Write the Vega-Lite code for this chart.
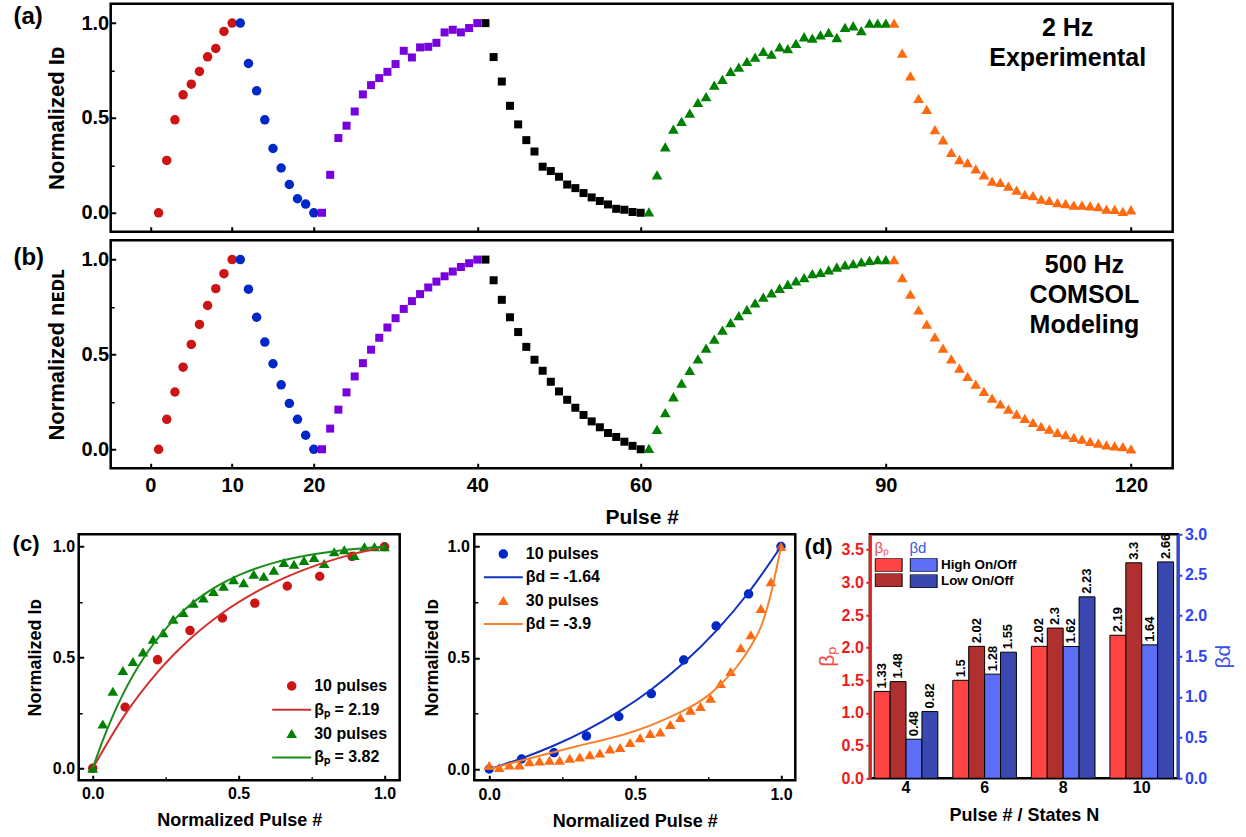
{
"$schema": "https://vega.github.io/schema/vega-lite/v6.json",
"padding": {"left": 10.7, "top": 1.75, "right": 0, "bottom": 0},
"background": "white",
"config": {
  "font": "Liberation Sans",
  "view": {"stroke": "black", "strokeWidth": 2.5},
  "axis": {"grid": false, "domain": false, "labelFontWeight": "bold", "titleFontWeight": "bold", "labelColor": "black", "titleColor": "black", "tickColor": "black", "labelFlush": false, "labelOverlap": false},
  "legend": {"labelFontWeight": "bold", "labelColor": "black"},
  "title": {"color": "black"}
},
"datasets": {
  "a": [
    {"n":1,"v":0,"s":"r"},{"n":2,"v":0.276,"s":"r"},{"n":3,"v":0.49,"s":"r"},{"n":4,"v":0.622,"s":"r"},{"n":5,"v":0.678,"s":"r"},{"n":6,"v":0.745,"s":"r"},{"n":7,"v":0.822,"s":"r"},{"n":8,"v":0.866,"s":"r"},{"n":9,"v":0.956,"s":"r"},{"n":10,"v":1.0,"s":"r"},
    {"n":11,"v":1.0,"s":"b"},{"n":12,"v":0.787,"s":"b"},{"n":13,"v":0.643,"s":"b"},{"n":14,"v":0.49,"s":"b"},{"n":15,"v":0.339,"s":"b"},{"n":16,"v":0.236,"s":"b"},{"n":17,"v":0.149,"s":"b"},{"n":18,"v":0.074,"s":"b"},{"n":19,"v":0.046,"s":"b"},{"n":20,"v":0.0,"s":"b"},
    {"n":21,"v":0,"s":"p"},{"n":22,"v":0.2,"s":"p"},{"n":23,"v":0.394,"s":"p"},{"n":24,"v":0.459,"s":"p"},{"n":25,"v":0.534,"s":"p"},{"n":26,"v":0.624,"s":"p"},{"n":27,"v":0.673,"s":"p"},{"n":28,"v":0.71,"s":"p"},{"n":29,"v":0.743,"s":"p"},{"n":30,"v":0.784,"s":"p"},{"n":31,"v":0.854,"s":"p"},{"n":32,"v":0.819,"s":"p"},{"n":33,"v":0.872,"s":"p"},{"n":34,"v":0.875,"s":"p"},{"n":35,"v":0.896,"s":"p"},{"n":36,"v":0.951,"s":"p"},{"n":37,"v":0.965,"s":"p"},{"n":38,"v":0.951,"s":"p"},{"n":39,"v":0.974,"s":"p"},{"n":40,"v":1.0,"s":"p"},
    {"n":41,"v":1.0,"s":"k"},{"n":42,"v":0.821,"s":"k"},{"n":43,"v":0.692,"s":"k"},{"n":44,"v":0.564,"s":"k"},{"n":45,"v":0.466,"s":"k"},{"n":46,"v":0.383,"s":"k"},{"n":47,"v":0.323,"s":"k"},{"n":48,"v":0.243,"s":"k"},{"n":49,"v":0.22,"s":"k"},{"n":50,"v":0.19,"s":"k"},{"n":51,"v":0.149,"s":"k"},{"n":52,"v":0.13,"s":"k"},{"n":53,"v":0.104,"s":"k"},{"n":54,"v":0.081,"s":"k"},{"n":55,"v":0.062,"s":"k"},{"n":56,"v":0.044,"s":"k"},{"n":57,"v":0.021,"s":"k"},{"n":58,"v":0.016,"s":"k"},{"n":59,"v":0.004,"s":"k"},{"n":60,"v":0.0,"s":"k"},
    {"n":61,"v":0.005,"s":"g"},{"n":62,"v":0.2,"s":"g"},{"n":63,"v":0.348,"s":"g"},{"n":64,"v":0.441,"s":"g"},{"n":65,"v":0.482,"s":"g"},{"n":66,"v":0.525,"s":"g"},{"n":67,"v":0.582,"s":"g"},{"n":68,"v":0.612,"s":"g"},{"n":69,"v":0.673,"s":"g"},{"n":70,"v":0.703,"s":"g"},{"n":71,"v":0.745,"s":"g"},{"n":72,"v":0.768,"s":"g"},{"n":73,"v":0.798,"s":"g"},{"n":74,"v":0.821,"s":"g"},{"n":75,"v":0.851,"s":"g"},{"n":76,"v":0.837,"s":"g"},{"n":77,"v":0.875,"s":"g"},{"n":78,"v":0.866,"s":"g"},{"n":79,"v":0.893,"s":"g"},{"n":80,"v":0.928,"s":"g"},{"n":81,"v":0.921,"s":"g"},{"n":82,"v":0.938,"s":"g"},{"n":83,"v":0.951,"s":"g"},{"n":84,"v":0.924,"s":"g"},{"n":85,"v":0.977,"s":"g"},{"n":86,"v":0.986,"s":"g"},{"n":87,"v":0.96,"s":"g"},{"n":88,"v":1.0,"s":"g"},{"n":89,"v":1.0,"s":"g"},{"n":90,"v":1.0,"s":"g"},
    {"n":91,"v":1.0,"s":"o"},{"n":92,"v":0.842,"s":"o"},{"n":93,"v":0.722,"s":"o"},{"n":94,"v":0.603,"s":"o"},{"n":95,"v":0.545,"s":"o"},{"n":96,"v":0.438,"s":"o"},{"n":97,"v":0.385,"s":"o"},{"n":98,"v":0.318,"s":"o"},{"n":99,"v":0.281,"s":"o"},{"n":100,"v":0.264,"s":"o"},{"n":101,"v":0.232,"s":"o"},{"n":102,"v":0.2,"s":"o"},{"n":103,"v":0.167,"s":"o"},{"n":104,"v":0.16,"s":"o"},{"n":105,"v":0.141,"s":"o"},{"n":106,"v":0.12,"s":"o"},{"n":107,"v":0.097,"s":"o"},{"n":108,"v":0.09,"s":"o"},{"n":109,"v":0.072,"s":"o"},{"n":110,"v":0.065,"s":"o"},{"n":111,"v":0.054,"s":"o"},{"n":112,"v":0.049,"s":"o"},{"n":113,"v":0.04,"s":"o"},{"n":114,"v":0.04,"s":"o"},{"n":115,"v":0.037,"s":"o"},{"n":116,"v":0.033,"s":"o"},{"n":117,"v":0.019,"s":"o"},{"n":118,"v":0.018,"s":"o"},{"n":119,"v":0.007,"s":"o"},{"n":120,"v":0.016,"s":"o"}
  ],
  "b": [
    {"n":1,"v":0,"s":"r"},{"n":2,"v":0.158,"s":"r"},{"n":3,"v":0.302,"s":"r"},{"n":4,"v":0.433,"s":"r"},{"n":5,"v":0.553,"s":"r"},{"n":6,"v":0.658,"s":"r"},{"n":7,"v":0.758,"s":"r"},{"n":8,"v":0.847,"s":"r"},{"n":9,"v":0.926,"s":"r"},{"n":10,"v":1.0,"s":"r"},
    {"n":11,"v":1.0,"s":"b"},{"n":12,"v":0.844,"s":"b"},{"n":13,"v":0.696,"s":"b"},{"n":14,"v":0.565,"s":"b"},{"n":15,"v":0.451,"s":"b"},{"n":16,"v":0.34,"s":"b"},{"n":17,"v":0.242,"s":"b"},{"n":18,"v":0.158,"s":"b"},{"n":19,"v":0.074,"s":"b"},{"n":20,"v":0,"s":"b"},
    {"n":21,"v":0,"s":"p"},{"n":22,"v":0.109,"s":"p"},{"n":23,"v":0.209,"s":"p"},{"n":24,"v":0.3,"s":"p"},{"n":25,"v":0.384,"s":"p"},{"n":26,"v":0.454,"s":"p"},{"n":27,"v":0.525,"s":"p"},{"n":28,"v":0.588,"s":"p"},{"n":29,"v":0.642,"s":"p"},{"n":30,"v":0.691,"s":"p"},{"n":31,"v":0.74,"s":"p"},{"n":32,"v":0.781,"s":"p"},{"n":33,"v":0.818,"s":"p"},{"n":34,"v":0.853,"s":"p"},{"n":35,"v":0.884,"s":"p"},{"n":36,"v":0.912,"s":"p"},{"n":37,"v":0.937,"s":"p"},{"n":38,"v":0.961,"s":"p"},{"n":39,"v":0.981,"s":"p"},{"n":40,"v":1.0,"s":"p"},
    {"n":41,"v":1.0,"s":"k"},{"n":42,"v":0.891,"s":"k"},{"n":43,"v":0.788,"s":"k"},{"n":44,"v":0.696,"s":"k"},{"n":45,"v":0.618,"s":"k"},{"n":46,"v":0.54,"s":"k"},{"n":47,"v":0.472,"s":"k"},{"n":48,"v":0.414,"s":"k"},{"n":49,"v":0.356,"s":"k"},{"n":50,"v":0.305,"s":"k"},{"n":51,"v":0.261,"s":"k"},{"n":52,"v":0.219,"s":"k"},{"n":53,"v":0.181,"s":"k"},{"n":54,"v":0.147,"s":"k"},{"n":55,"v":0.116,"s":"k"},{"n":56,"v":0.086,"s":"k"},{"n":57,"v":0.065,"s":"k"},{"n":58,"v":0.04,"s":"k"},{"n":59,"v":0.018,"s":"k"},{"n":60,"v":0,"s":"k"},
    {"n":61,"v":0.005,"s":"g"},{"n":62,"v":0.105,"s":"g"},{"n":63,"v":0.193,"s":"g"},{"n":64,"v":0.277,"s":"g"},{"n":65,"v":0.349,"s":"g"},{"n":66,"v":0.416,"s":"g"},{"n":67,"v":0.477,"s":"g"},{"n":68,"v":0.533,"s":"g"},{"n":69,"v":0.581,"s":"g"},{"n":70,"v":0.628,"s":"g"},{"n":71,"v":0.668,"s":"g"},{"n":72,"v":0.705,"s":"g"},{"n":73,"v":0.737,"s":"g"},{"n":74,"v":0.772,"s":"g"},{"n":75,"v":0.802,"s":"g"},{"n":76,"v":0.825,"s":"g"},{"n":77,"v":0.849,"s":"g"},{"n":78,"v":0.87,"s":"g"},{"n":79,"v":0.888,"s":"g"},{"n":80,"v":0.905,"s":"g"},{"n":81,"v":0.926,"s":"g"},{"n":82,"v":0.933,"s":"g"},{"n":83,"v":0.946,"s":"g"},{"n":84,"v":0.961,"s":"g"},{"n":85,"v":0.972,"s":"g"},{"n":86,"v":0.979,"s":"g"},{"n":87,"v":0.988,"s":"g"},{"n":88,"v":0.996,"s":"g"},{"n":89,"v":1.0,"s":"g"},{"n":90,"v":1.0,"s":"g"},
    {"n":91,"v":1.0,"s":"o"},{"n":92,"v":0.905,"s":"o"},{"n":93,"v":0.818,"s":"o"},{"n":94,"v":0.735,"s":"o"},{"n":95,"v":0.66,"s":"o"},{"n":96,"v":0.593,"s":"o"},{"n":97,"v":0.533,"s":"o"},{"n":98,"v":0.477,"s":"o"},{"n":99,"v":0.428,"s":"o"},{"n":100,"v":0.384,"s":"o"},{"n":101,"v":0.344,"s":"o"},{"n":102,"v":0.305,"s":"o"},{"n":103,"v":0.27,"s":"o"},{"n":104,"v":0.239,"s":"o"},{"n":105,"v":0.212,"s":"o"},{"n":106,"v":0.186,"s":"o"},{"n":107,"v":0.163,"s":"o"},{"n":108,"v":0.142,"s":"o"},{"n":109,"v":0.121,"s":"o"},{"n":110,"v":0.107,"s":"o"},{"n":111,"v":0.089,"s":"o"},{"n":112,"v":0.077,"s":"o"},{"n":113,"v":0.063,"s":"o"},{"n":114,"v":0.053,"s":"o"},{"n":115,"v":0.042,"s":"o"},{"n":116,"v":0.032,"s":"o"},{"n":117,"v":0.023,"s":"o"},{"n":118,"v":0.018,"s":"o"},{"n":119,"v":0.014,"s":"o"},{"n":120,"v":0.002,"s":"o"}
  ],
  "c1p": [
    {"x":0,"y":0,"s":"10 pulses"},{"x":0.1111,"y":0.276,"s":"10 pulses"},{"x":0.2222,"y":0.49,"s":"10 pulses"},{"x":0.3333,"y":0.622,"s":"10 pulses"},{"x":0.4444,"y":0.678,"s":"10 pulses"},{"x":0.5556,"y":0.745,"s":"10 pulses"},{"x":0.6667,"y":0.822,"s":"10 pulses"},{"x":0.7778,"y":0.866,"s":"10 pulses"},{"x":0.8889,"y":0.956,"s":"10 pulses"},{"x":1,"y":1,"s":"10 pulses"},
    {"x":0,"y":0,"s":"30 pulses"},{"x":0.0345,"y":0.2,"s":"30 pulses"},{"x":0.069,"y":0.348,"s":"30 pulses"},{"x":0.1034,"y":0.441,"s":"30 pulses"},{"x":0.1379,"y":0.482,"s":"30 pulses"},{"x":0.1724,"y":0.525,"s":"30 pulses"},{"x":0.2069,"y":0.582,"s":"30 pulses"},{"x":0.2414,"y":0.612,"s":"30 pulses"},{"x":0.2759,"y":0.673,"s":"30 pulses"},{"x":0.3103,"y":0.703,"s":"30 pulses"},{"x":0.3448,"y":0.745,"s":"30 pulses"},{"x":0.3793,"y":0.768,"s":"30 pulses"},{"x":0.4138,"y":0.798,"s":"30 pulses"},{"x":0.4483,"y":0.821,"s":"30 pulses"},{"x":0.4828,"y":0.851,"s":"30 pulses"},{"x":0.5172,"y":0.837,"s":"30 pulses"},{"x":0.5517,"y":0.875,"s":"30 pulses"},{"x":0.5862,"y":0.866,"s":"30 pulses"},{"x":0.6207,"y":0.893,"s":"30 pulses"},{"x":0.6552,"y":0.928,"s":"30 pulses"},{"x":0.6897,"y":0.921,"s":"30 pulses"},{"x":0.7241,"y":0.938,"s":"30 pulses"},{"x":0.7586,"y":0.951,"s":"30 pulses"},{"x":0.7931,"y":0.924,"s":"30 pulses"},{"x":0.8276,"y":0.977,"s":"30 pulses"},{"x":0.8621,"y":0.986,"s":"30 pulses"},{"x":0.8966,"y":0.96,"s":"30 pulses"},{"x":0.931,"y":1,"s":"30 pulses"},{"x":0.9655,"y":1,"s":"30 pulses"},{"x":1,"y":1,"s":"30 pulses"}
  ],
  "c1l": [
    {"x":0,"y":0,"s":"βₚ = 2.19"},{"x":0.1111,"y":0.2431,"s":"βₚ = 2.19"},{"x":0.2222,"y":0.4339,"s":"βₚ = 2.19"},{"x":0.3333,"y":0.5834,"s":"βₚ = 2.19"},{"x":0.4444,"y":0.7006,"s":"βₚ = 2.19"},{"x":0.5556,"y":0.7925,"s":"βₚ = 2.19"},{"x":0.6667,"y":0.8646,"s":"βₚ = 2.19"},{"x":0.7778,"y":0.921,"s":"βₚ = 2.19"},{"x":0.8889,"y":0.9653,"s":"βₚ = 2.19"},{"x":1,"y":1,"s":"βₚ = 2.19"},
    {"x":0,"y":0,"s":"βₚ = 3.82"},{"x":0.0345,"y":0.1262,"s":"βₚ = 3.82"},{"x":0.069,"y":0.2368,"s":"βₚ = 3.82"},{"x":0.1034,"y":0.3337,"s":"βₚ = 3.82"},{"x":0.1379,"y":0.4187,"s":"βₚ = 3.82"},{"x":0.1724,"y":0.4933,"s":"βₚ = 3.82"},{"x":0.2069,"y":0.5586,"s":"βₚ = 3.82"},{"x":0.2414,"y":0.6158,"s":"βₚ = 3.82"},{"x":0.2759,"y":0.666,"s":"βₚ = 3.82"},{"x":0.3103,"y":0.71,"s":"βₚ = 3.82"},{"x":0.3448,"y":0.7485,"s":"βₚ = 3.82"},{"x":0.3793,"y":0.7823,"s":"βₚ = 3.82"},{"x":0.4138,"y":0.812,"s":"βₚ = 3.82"},{"x":0.4483,"y":0.8379,"s":"βₚ = 3.82"},{"x":0.4828,"y":0.8607,"s":"βₚ = 3.82"},{"x":0.5172,"y":0.8807,"s":"βₚ = 3.82"},{"x":0.5517,"y":0.8982,"s":"βₚ = 3.82"},{"x":0.5862,"y":0.9135,"s":"βₚ = 3.82"},{"x":0.6207,"y":0.9269,"s":"βₚ = 3.82"},{"x":0.6552,"y":0.9387,"s":"βₚ = 3.82"},{"x":0.6897,"y":0.9491,"s":"βₚ = 3.82"},{"x":0.7241,"y":0.9581,"s":"βₚ = 3.82"},{"x":0.7586,"y":0.9661,"s":"βₚ = 3.82"},{"x":0.7931,"y":0.973,"s":"βₚ = 3.82"},{"x":0.8276,"y":0.9791,"s":"βₚ = 3.82"},{"x":0.8621,"y":0.9845,"s":"βₚ = 3.82"},{"x":0.8966,"y":0.9891,"s":"βₚ = 3.82"},{"x":0.931,"y":0.9932,"s":"βₚ = 3.82"},{"x":0.9655,"y":0.9968,"s":"βₚ = 3.82"},{"x":1,"y":1,"s":"βₚ = 3.82"}
  ],
  "c2p": [
    {"x":0,"y":0,"s":"10 pulses"},{"x":0.1111,"y":0.046,"s":"10 pulses"},{"x":0.2222,"y":0.074,"s":"10 pulses"},{"x":0.3333,"y":0.149,"s":"10 pulses"},{"x":0.4444,"y":0.236,"s":"10 pulses"},{"x":0.5556,"y":0.339,"s":"10 pulses"},{"x":0.6667,"y":0.49,"s":"10 pulses"},{"x":0.7778,"y":0.643,"s":"10 pulses"},{"x":0.8889,"y":0.787,"s":"10 pulses"},{"x":1,"y":1,"s":"10 pulses"},
    {"x":0,"y":0.016,"s":"30 pulses"},{"x":0.0345,"y":0.007,"s":"30 pulses"},{"x":0.069,"y":0.018,"s":"30 pulses"},{"x":0.1034,"y":0.019,"s":"30 pulses"},{"x":0.1379,"y":0.033,"s":"30 pulses"},{"x":0.1724,"y":0.037,"s":"30 pulses"},{"x":0.2069,"y":0.04,"s":"30 pulses"},{"x":0.2414,"y":0.04,"s":"30 pulses"},{"x":0.2759,"y":0.049,"s":"30 pulses"},{"x":0.3103,"y":0.054,"s":"30 pulses"},{"x":0.3448,"y":0.065,"s":"30 pulses"},{"x":0.3793,"y":0.072,"s":"30 pulses"},{"x":0.4138,"y":0.09,"s":"30 pulses"},{"x":0.4483,"y":0.097,"s":"30 pulses"},{"x":0.4828,"y":0.12,"s":"30 pulses"},{"x":0.5172,"y":0.141,"s":"30 pulses"},{"x":0.5517,"y":0.16,"s":"30 pulses"},{"x":0.5862,"y":0.167,"s":"30 pulses"},{"x":0.6207,"y":0.2,"s":"30 pulses"},{"x":0.6552,"y":0.232,"s":"30 pulses"},{"x":0.6897,"y":0.264,"s":"30 pulses"},{"x":0.7241,"y":0.281,"s":"30 pulses"},{"x":0.7586,"y":0.318,"s":"30 pulses"},{"x":0.7931,"y":0.385,"s":"30 pulses"},{"x":0.8276,"y":0.438,"s":"30 pulses"},{"x":0.8621,"y":0.545,"s":"30 pulses"},{"x":0.8966,"y":0.603,"s":"30 pulses"},{"x":0.931,"y":0.722,"s":"30 pulses"},{"x":0.9655,"y":0.842,"s":"30 pulses"},{"x":1,"y":1,"s":"30 pulses"}
  ],
  "c2l": [
    {"x":0,"y":0,"s":"βd = -1.64"},{"x":0.1111,"y":0.0481,"s":"βd = -1.64"},{"x":0.2222,"y":0.1059,"s":"βd = -1.64"},{"x":0.3333,"y":0.1751,"s":"βd = -1.64"},{"x":0.4444,"y":0.2582,"s":"βd = -1.64"},{"x":0.5556,"y":0.3579,"s":"βd = -1.64"},{"x":0.6667,"y":0.4775,"s":"βd = -1.64"},{"x":0.7778,"y":0.6211,"s":"βd = -1.64"},{"x":0.8889,"y":0.7934,"s":"βd = -1.64"},{"x":1,"y":1,"s":"βd = -1.64"},
    {"x":0,"y":0,"s":"βd = -3.9"},{"x":0.1,"y":0.035,"s":"βd = -3.9"},{"x":0.2,"y":0.069,"s":"βd = -3.9"},{"x":0.3,"y":0.103,"s":"βd = -3.9"},{"x":0.4,"y":0.134,"s":"βd = -3.9"},{"x":0.5,"y":0.171,"s":"βd = -3.9"},{"x":0.6,"y":0.222,"s":"βd = -3.9"},{"x":0.7,"y":0.287,"s":"βd = -3.9"},{"x":0.75,"y":0.33,"s":"βd = -3.9"},{"x":0.8,"y":0.39,"s":"βd = -3.9"},{"x":0.85,"y":0.462,"s":"βd = -3.9"},{"x":0.9,"y":0.56,"s":"βd = -3.9"},{"x":0.93,"y":0.635,"s":"βd = -3.9"},{"x":0.966,"y":0.79,"s":"βd = -3.9"},{"x":1,"y":1,"s":"βd = -3.9"}
  ],
  "d": [
    {"N":4,"k":"pH","par":"p","t":"High On/Off","v":1.33},{"N":4,"k":"pL","par":"p","t":"Low On/Off","v":1.48},{"N":4,"k":"dH","par":"d","t":"High On/Off","v":0.48},{"N":4,"k":"dL","par":"d","t":"Low On/Off","v":0.82},
    {"N":6,"k":"pH","par":"p","t":"High On/Off","v":1.5},{"N":6,"k":"pL","par":"p","t":"Low On/Off","v":2.02},{"N":6,"k":"dH","par":"d","t":"High On/Off","v":1.28},{"N":6,"k":"dL","par":"d","t":"Low On/Off","v":1.55},
    {"N":8,"k":"pH","par":"p","t":"High On/Off","v":2.02},{"N":8,"k":"pL","par":"p","t":"Low On/Off","v":2.3},{"N":8,"k":"dH","par":"d","t":"High On/Off","v":1.62},{"N":8,"k":"dL","par":"d","t":"Low On/Off","v":2.23},
    {"N":10,"k":"pH","par":"p","t":"High On/Off","v":2.19},{"N":10,"k":"pL","par":"p","t":"Low On/Off","v":3.3},{"N":10,"k":"dH","par":"d","t":"High On/Off","v":1.64},{"N":10,"k":"dL","par":"d","t":"Low On/Off","v":2.66}
  ]
},
"vconcat": [
  {"hconcat": [
    {"width": 31.2, "height": 1, "view": {"stroke": null}, "data": {"values": []}, "mark": "point"},
    {"vconcat": [
      {
        "width": 1062, "height": 228,
        "title": {"text": "(a)", "anchor": "start", "frame": "group", "orient": "top", "offset": 0, "baseline": "top", "dx": -97.3, "dy": 25.3, "fontSize": 24, "fontWeight": "bold"},
        "layer": [
          {"data": {"name": "a"},
           "mark": {"type": "point", "filled": true, "opacity": 1},
           "encoding": {
             "x": {"field": "n", "type": "quantitative", "scale": {"domain": [-4.86, 125.1], "nice": false, "zero": false}, "axis": {"values": [0,10,20,40,60,90,120], "labels": false, "tickSize": -5, "tickWidth": 2, "title": null}},
             "y": {"field": "v", "type": "quantitative", "scale": {"domain": [-0.1, 1.102], "nice": false, "zero": false}, "axis": {"values": [0,0.5,1], "format": ".1f", "tickSize": -5, "tickWidth": 2, "labelPadding": 7, "labelFontSize": 20, "title": "Normalized Iᴅ", "titleFontSize": 22, "titleX": -54, "titleBaseline": "middle"}},
             "color": {"field": "s", "type": "nominal", "scale": {"domain": ["r","b","p","k","g","o"], "range": ["#cc1414","#0028c8","#7800dc","#000000","#008000","#ff6a10"]}, "legend": null},
             "shape": {"field": "s", "type": "nominal", "scale": {"domain": ["r","b","p","k","g","o"], "range": ["circle","circle","square","square","triangle-up","triangle-up"]}, "legend": null},
             "size": {"condition": [{"test": "datum.s=='p'||datum.s=='k'", "value": 64}, {"test": "datum.s=='g'||datum.s=='o'", "value": 115}], "value": 90}
           }},
          {"data": {"values": [{}]},
           "mark": {"type": "text", "text": ["2 Hz", "Experimental"], "fontSize": 25, "fontWeight": "bold", "lineHeight": 30, "align": "center", "baseline": "middle"},
           "encoding": {
             "x": {"datum": 112.25, "type": "quantitative"},
             "y": {"datum": 0.975, "type": "quantitative", "axis": {"orient": "left", "values": [0.25, 0.75], "labels": false, "ticks": true, "tickSize": -3.5, "tickWidth": 1.5, "title": null}}
           }}
        ],
        "resolve": {"axis": {"y": "independent"}}
      },
      {
        "width": 1062, "height": 228,
        "title": {"text": "(b)", "anchor": "start", "frame": "group", "orient": "top", "offset": 0, "baseline": "top", "dx": -97.3, "dy": 30, "fontSize": 24, "fontWeight": "bold"},
        "layer": [
          {"data": {"name": "b"},
           "mark": {"type": "point", "filled": true, "opacity": 1},
           "encoding": {
             "x": {"field": "n", "type": "quantitative", "scale": {"domain": [-4.86, 125.1], "nice": false, "zero": false}, "axis": {"values": [0,10,20,40,60,90,120], "labels": true, "labelFontSize": 20, "labelPadding": 12.7, "tickSize": -5, "tickWidth": 2, "title": "Pulse #", "titleFontSize": 21, "titleY": 38, "titleBaseline": "top"}},
             "y": {"field": "v", "type": "quantitative", "scale": {"domain": [-0.1, 1.102], "nice": false, "zero": false}, "axis": {"values": [0,0.5,1], "format": ".1f", "tickSize": -5, "tickWidth": 2, "labelPadding": 7, "labelFontSize": 20, "title": "Normalized nᴇᴅʟ", "titleFontSize": 22, "titleX": -54, "titleBaseline": "middle"}},
             "color": {"field": "s", "type": "nominal", "scale": {"domain": ["r","b","p","k","g","o"], "range": ["#cc1414","#0028c8","#7800dc","#000000","#008000","#ff6a10"]}, "legend": null},
             "shape": {"field": "s", "type": "nominal", "scale": {"domain": ["r","b","p","k","g","o"], "range": ["circle","circle","square","square","triangle-up","triangle-up"]}, "legend": null},
             "size": {"condition": [{"test": "datum.s=='p'||datum.s=='k'", "value": 64}, {"test": "datum.s=='g'||datum.s=='o'", "value": 115}], "value": 90}
           }},
          {"data": {"values": [{}]},
           "mark": {"type": "text", "text": ["500 Hz", "COMSOL", "Modeling"], "fontSize": 25, "fontWeight": "bold", "lineHeight": 30, "align": "center", "baseline": "middle"},
           "encoding": {
             "x": {"datum": 114.3, "type": "quantitative"},
             "y": {"datum": 0.972, "type": "quantitative", "axis": {"orient": "left", "values": [0.25, 0.75], "labels": false, "ticks": true, "tickSize": -3.5, "tickWidth": 1.5, "title": null}}
           }}
        ],
        "resolve": {"axis": {"y": "independent"}}
      }
    ], "bounds": "flush", "spacing": 8.5}
  ], "bounds": "flush", "spacing": 0},
  {"hconcat": [
    {
      "width": 321, "height": 246,
      "title": {"text": "(c)", "anchor": "start", "frame": "group", "orient": "top", "offset": 0, "baseline": "top", "dx": -66.1, "dy": 22, "fontSize": 22, "fontWeight": "bold"},
      "layer": [
        {"data": {"name": "c1p"},
         "mark": {"type": "point", "filled": true, "opacity": 1, "size": 1600},
         "encoding": {
           "x": {"field": "x", "type": "quantitative", "scale": {"domain": [-0.048, 1.052], "nice": false, "zero": false}, "axis": {"values": [0,0.5,1], "format": ".1f", "tickSize": -5, "tickWidth": 2, "labelFontSize": 16, "labelPadding": 10, "title": "Normalized Pulse #", "titleFontSize": 18, "titleY": 31, "titleBaseline": "top"}},
           "y": {"field": "y", "type": "quantitative", "scale": {"domain": [-0.054, 1.056], "nice": false, "zero": false}, "axis": {"values": [0,0.5,1], "format": ".1f", "tickSize": -5, "tickWidth": 2, "labelFontSize": 16, "labelPadding": 9.1, "title": "Normalized Iᴅ", "titleFontSize": 18, "titleX": -43.5, "titleBaseline": "middle"}},
           "color": {"field": "s", "type": "nominal", "scale": {"domain": ["10 pulses","βₚ = 2.19","30 pulses","βₚ = 3.82"], "range": ["#cc1414","#d42f2f","#008000","#1a8c1a"]},
             "legend": {"title": null, "orient": "bottom-right", "offset": 12, "padding": 0, "rowPadding": 1.8, "clipHeight": 21.5, "labelOffset": 2.5, "labelFontSize": 16, "labelFontWeight": "bold", "symbolSize": 1600, "symbolStrokeWidth": 0}},
           "shape": {"field": "s", "type": "nominal", "scale": {"domain": ["10 pulses","βₚ = 2.19","30 pulses","βₚ = 3.82"], "range": ["M-0.235,0A0.235,0.235,0,1,1,0.235,0A0.235,0.235,0,1,1,-0.235,0Z","M-0.975,-0.05H0.975V0.05H-0.975Z","M0,-0.225L0.267,0.225L-0.267,0.225Z","M-0.975,-0.05H0.975V0.05H-0.975Z"]}}
         }},
        {"data": {"name": "c1l"},
         "mark": {"type": "line", "strokeWidth": 2, "interpolate": "monotone"},
         "encoding": {
           "x": {"field": "x", "type": "quantitative", "axis": {"orient": "bottom", "values": [0.25,0.75], "labels": false, "tickSize": -3.5, "tickWidth": 1.5, "title": null}},
           "y": {"field": "y", "type": "quantitative", "axis": {"orient": "left", "values": [0.25,0.75], "labels": false, "tickSize": -3.5, "tickWidth": 1.5, "title": null}},
           "color": {"field": "s", "type": "nominal"}
         }}
      ],
      "resolve": {"axis": {"x": "independent", "y": "independent"}}
    },
    {
      "width": 321, "height": 246,
      "layer": [
        {"data": {"name": "c2p"},
         "mark": {"type": "point", "filled": true, "opacity": 1, "size": 1600},
         "encoding": {
           "x": {"field": "x", "type": "quantitative", "scale": {"domain": [-0.051, 1.049], "nice": false, "zero": false}, "axis": {"values": [0,0.5,1], "format": ".1f", "tickSize": -5, "tickWidth": 2, "labelFontSize": 16, "labelPadding": 11.5, "title": "Normalized Pulse #", "titleFontSize": 18, "titleY": 32.5, "titleBaseline": "top"}},
           "y": {"field": "y", "type": "quantitative", "scale": {"domain": [-0.05, 1.055], "nice": false, "zero": false}, "axis": {"values": [0,0.5,1], "format": ".1f", "tickSize": -5, "tickWidth": 2, "labelFontSize": 16, "labelPadding": 10, "title": "Normalized Iᴅ", "titleFontSize": 18, "titleX": -42, "titleBaseline": "middle"}},
           "color": {"field": "s", "type": "nominal", "scale": {"domain": ["10 pulses","βd = -1.64","30 pulses","βd = -3.9"], "range": ["#0028c8","#1030c0","#ff6a10","#f7822d"]},
             "legend": {"title": null, "orient": "top-left", "offset": 9, "padding": 0, "rowPadding": 1.3, "clipHeight": 21.5, "labelOffset": 2.5, "labelFontSize": 16, "labelFontWeight": "bold", "symbolSize": 1600, "symbolStrokeWidth": 0}},
           "shape": {"field": "s", "type": "nominal", "scale": {"domain": ["10 pulses","βd = -1.64","30 pulses","βd = -3.9"], "range": ["M-0.235,0A0.235,0.235,0,1,1,0.235,0A0.235,0.235,0,1,1,-0.235,0Z","M-0.975,-0.05H0.975V0.05H-0.975Z","M0,-0.225L0.267,0.225L-0.267,0.225Z","M-0.975,-0.05H0.975V0.05H-0.975Z"]}}
         }},
        {"data": {"name": "c2l"},
         "mark": {"type": "line", "strokeWidth": 2, "interpolate": "monotone"},
         "encoding": {
           "x": {"field": "x", "type": "quantitative", "axis": {"orient": "bottom", "values": [0.25,0.75], "labels": false, "tickSize": -3.5, "tickWidth": 1.5, "title": null}},
           "y": {"field": "y", "type": "quantitative", "axis": {"orient": "left", "values": [0.25,0.75], "labels": false, "tickSize": -3.5, "tickWidth": 1.5, "title": null}},
           "color": {"field": "s", "type": "nominal"}
         }}
      ],
      "resolve": {"axis": {"x": "independent", "y": "independent"}}
    },
    {
      "width": 308, "height": 244,
      "title": {"text": "(d)", "anchor": "start", "frame": "group", "orient": "top", "offset": 0, "baseline": "top", "dx": -65.3, "dy": 33, "fontSize": 22, "fontWeight": "bold"},
      "data": {"name": "d"},
      "encoding": {
        "x": {"field": "N", "type": "ordinal", "scale": {"paddingInner": 0.19, "paddingOuter": 0.055}, "axis": {"labelAngle": 0, "labelFontSize": 16, "labelPadding": 1.5, "ticks": false, "domain": false, "title": "Pulse # / States N", "titleFontSize": 18, "titleY": 28.5, "titleBaseline": "top"}},
        "xOffset": {"field": "k", "type": "nominal", "scale": {"domain": ["pH","pL","dH","dL"], "paddingInner": 0, "paddingOuter": 0}}
      },
      "layer": [
        {"transform": [{"filter": "datum.par=='p'"}],
         "encoding": {"y": {"field": "v", "type": "quantitative", "scale": {"domain": [0, 3.737], "nice": false, "zero": true},
           "axis": {"orient": "left", "values": [0,0.5,1,1.5,2,2.5,3,3.5], "format": ".1f", "domain": true, "domainColor": "#f01a1a", "domainWidth": 3, "ticks": true, "tickColor": "#f01a1a", "tickSize": 4, "tickWidth": 2, "labelColor": "#f01a1a", "labelFontSize": 16, "labelPadding": 2.6, "title": "βₚ", "titleColor": "#f04848", "titleFontSize": 21, "titleFontWeight": "normal", "titleX": -42.3, "titleBaseline": "middle"}}},
         "layer": [
           {"mark": {"type": "bar", "stroke": "black", "strokeWidth": 1},
            "encoding": {"fill": {"field": "t", "type": "nominal", "scale": {"domain": ["High On/Off","Low On/Off"], "range": ["#ff4444","#b03030"]},
              "legend": {"title": "βₚ", "orient": "none", "legendX": 4.5, "legendY": 7, "titleColor": "#f04a4a", "titleFontSize": 15, "titleFontWeight": "normal", "titlePadding": 2, "labelExpr": "''", "symbolType": "M-1,-1H3V1H-1Z", "symbolSize": 182, "symbolStrokeColor": "black", "symbolStrokeWidth": 1, "clipHeight": 13.5, "rowPadding": 1.2, "labelOffset": 16.5, "padding": 0}}}},
           {"mark": {"type": "text", "angle": 270, "align": "left", "baseline": "middle", "dx": 3, "fontSize": 13, "fontWeight": "bold", "color": "black"},
            "encoding": {"text": {"field": "v", "type": "nominal"}}}
         ]},
        {"transform": [{"filter": "datum.par=='d'"}],
         "encoding": {"y": {"field": "v", "type": "quantitative", "scale": {"domain": [0, 3.0], "nice": false, "zero": true},
           "axis": {"orient": "right", "values": [0,0.5,1,1.5,2,2.5,3], "format": ".1f", "domain": true, "domainColor": "#2d44f0", "domainWidth": 3, "ticks": true, "tickColor": "#2d44f0", "tickSize": 4, "tickWidth": 2, "labelColor": "#2d44f0", "labelFontSize": 16, "labelPadding": 2.5, "title": "βd", "titleColor": "#3a50e8", "titleFontSize": 21, "titleFontWeight": "normal", "titleAngle": 270, "titleX": 45.3, "titleBaseline": "middle"}}},
         "layer": [
           {"mark": {"type": "bar", "stroke": "black", "strokeWidth": 1},
            "encoding": {"fill": {"field": "t", "type": "nominal", "scale": {"domain": ["High On/Off","Low On/Off"], "range": ["#5c6ef5","#3a48b0"]},
              "legend": {"title": "βd", "orient": "none", "legendX": 39.5, "legendY": 7, "titleColor": "#3a5ae0", "titleFontSize": 15, "titleFontWeight": "normal", "titlePadding": 2, "labelFontSize": 13.5, "labelFontWeight": "bold", "symbolType": "M-1,-1H3V1H-1Z", "symbolSize": 182, "symbolStrokeColor": "black", "symbolStrokeWidth": 1, "clipHeight": 13.5, "rowPadding": 1.2, "labelOffset": 16.5, "padding": 0}}}},
           {"mark": {"type": "text", "angle": 270, "align": "left", "baseline": "middle", "dx": 3, "fontSize": 13, "fontWeight": "bold", "color": "black"},
            "encoding": {"text": {"field": "v", "type": "nominal"}}}
         ]}
      ],
      "resolve": {"scale": {"y": "independent", "fill": "independent"}, "axis": {"y": "independent"}, "legend": {"fill": "independent"}}
    }
  ], "bounds": "flush", "spacing": 74.6,
  "resolve": {"scale": {"color": "independent", "shape": "independent", "fill": "independent"}, "legend": {"color": "independent", "shape": "independent", "fill": "independent"}}}
],
"spacing": -4.5,
"resolve": {"scale": {"color": "independent", "shape": "independent", "fill": "independent"}, "legend": {"color": "independent", "shape": "independent", "fill": "independent"}}
}
